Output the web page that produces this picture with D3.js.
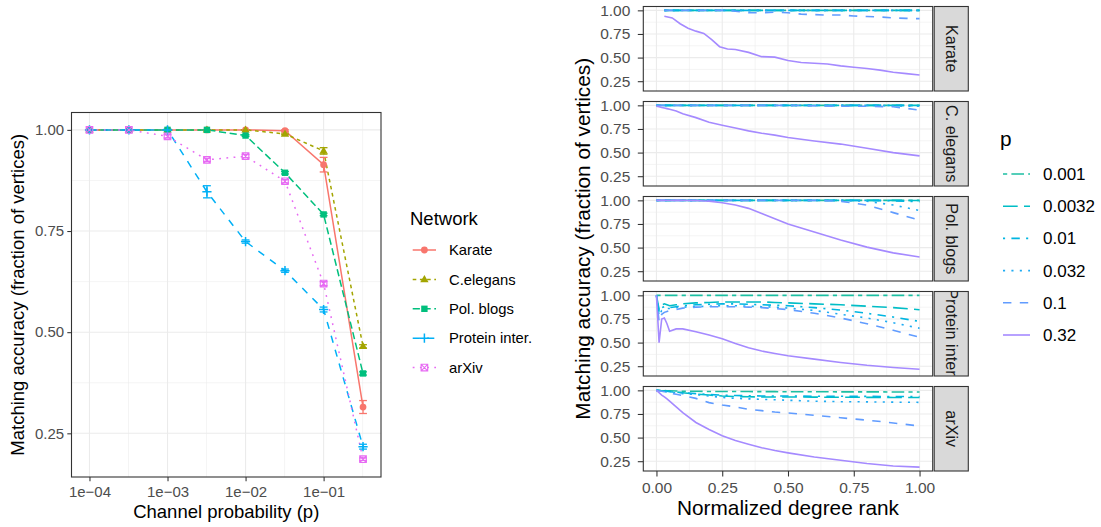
<!DOCTYPE html>
<html><head><meta charset="utf-8">
<script src="https://cdn.jsdelivr.net/npm/d3@7"></script>
<style>body{margin:0;background:#fff} svg{display:block;font-family:"Liberation Sans",Arial,Helvetica,sans-serif}</style>
</head><body><svg id="c" width="1101" height="527"></svg>
<script>
// ---------------- Left chart data ----------------
const channelP = [1e-4, 3.2e-4, 1e-3, 3.2e-3, 1e-2, 3.2e-2, 0.1, 0.32];
const networks = ["Karate", "C.elegans", "Pol. blogs", "Protein inter.", "arXiv"];
const accKarate   = [1, 1, 1, 1, 1, 0.998, 0.914, 0.315];
const accCelegans = [1, 1, 1, 1, 1, 0.990, 0.948, 0.465];
const accPolblogs = [1, 1, 1, 1, 0.986, 0.894, 0.791, 0.398];
const accProtein  = [1, 1, 1, 0.847, 0.724, 0.652, 0.556, 0.217];
const accArxiv    = [1, 1, 0.984, 0.926, 0.935, 0.873, 0.620, 0.186];
const errKarate   = [0, 0, 0, 0, 0, 0.002, 0.018, 0.016];
const errCelegans = [0, 0, 0, 0, 0, 0.002, 0.008, 0.004];
const errPolblogs = [0, 0, 0, 0, 0.002, 0.003, 0.003, 0.004];
const errProtein  = [0, 0, 0.002, 0.015, 0.004, 0.004, 0.006, 0.006];
const errArxiv    = [0, 0, 0.004, 0.004, 0.004, 0.004, 0.005, 0.003];
const xTickValues = [1e-4, 1e-3, 1e-2, 1e-1];
const xTickLabels = ["1e\u221204", "1e\u221203", "1e\u221202", "1e\u221201"];
const yTickValues = [0.25, 0.5, 0.75, 1.0];
const yTickLabels = ["0.25", "0.50", "0.75", "1.00"];

// ---------------- Right chart data ----------------
const pLevels = ["0.001", "0.0032", "0.01", "0.032", "0.1", "0.32"];
const facetNames = ["Karate", "C. elegans", "Pol. blogs", "Protein inter.", "arXiv"];
const rankKarate = [0.03,0.06,0.09,0.12,0.15,0.18,0.21,0.24,0.27,0.30,0.35,0.40,0.45,0.50,0.55,0.60,0.65,0.70,0.75,0.80,0.85,0.90,0.95,1.00];
const rankOther = [0,0.01,0.02,0.03,0.04,0.05,0.075,0.1,0.15,0.2,0.25,0.3,0.35,0.4,0.45,0.5,0.6,0.7,0.8,0.9,1.0];
const rankTicks = [0, 0.25, 0.5, 0.75, 1.0];
const rankTickLabels = ["0.00", "0.25", "0.50", "0.75", "1.00"];

const curvesKarate = [
  [1,1,1,1,1,1,1,1,1,1,1,1,1,1,1,1,1,1,1,1,1,1,1,1],
  [1,1,1,1,1,1,1,1,1,1,1,1,1,1,1,1,1,1,1,1,1,1,1,1],
  [1,1,1,1,1,1,1,1,1,1,1,1,1,1,1,1,1,1,1,1,1,1,1,1],
  [1,1,1,1,1,1,1,1,1,1,1,1,1,1,1,1,1,1,1,1,1,1,0.999,0.998],
  [1,1,1,1,1,1,1,1,1,0.99,0.975,0.975,0.98,0.975,0.96,0.955,0.95,0.95,0.94,0.935,0.93,0.92,0.915,0.912],
  [0.937,0.92,0.858,0.81,0.78,0.755,0.69,0.615,0.59,0.585,0.555,0.51,0.505,0.47,0.448,0.44,0.432,0.412,0.398,0.384,0.367,0.345,0.33,0.315]
];
const curvesCelegans = [
  [1,1,1,1,1,1,1,1,1,1,1,1,1,1,1,1,1,1,1,1,1],
  [1,1,1,1,1,1,1,1,1,1,1,1,1,1,1,1,1,1,1,1,1],
  [1,1,1,1,1,1,1,1,1,1,1,1,1,1,1,1,1,1,1,1,0.998],
  [1,1,1,1,1,1,1,1,1,1,1,1,1,1,1,1,1,1,1,0.995,0.99],
  [1,1,1,1,1,1,1,1,1,1,1,1,1,1,1,1,0.995,0.99,0.99,0.985,0.95],
  [0.99,0.985,0.978,0.972,0.965,0.958,0.94,0.91,0.87,0.82,0.79,0.76,0.73,0.705,0.685,0.66,0.622,0.59,0.545,0.50,0.465]
];
const curvesPolblogs = [
  [1,1,1,1,1,1,1,1,1,1,1,1,1,1,1,1,1,1,1,1,1],
  [1,1,1,1,1,1,1,1,1,1,1,1,1,1,1,1,1,1,1,1,0.998],
  [1,1,1,1,1,1,1,1,1,1,1,1,1,1,1,1,1,1,1,0.995,0.986],
  [1,1,1,1,1,1,1,1,1,1,1,1,1,1,1,1,1,1,0.99,0.95,0.893],
  [1,1,1,1,1,1,1,1,1,1,1,1,1,1,1,1,1,0.99,0.95,0.87,0.79],
  [1,1,1,1,1,1,1,1,0.998,0.99,0.975,0.95,0.915,0.86,0.805,0.75,0.665,0.58,0.505,0.444,0.40]
];
const curvesProtein = [
  [1,1,1,1,1,1,1,1,1,1,1,1,1,1,1,1,1,1,1,1,1],
  [1,0.85,0.9,0.91,0.9,0.89,0.9,0.91,0.92,0.925,0.93,0.93,0.93,0.93,0.925,0.92,0.91,0.9,0.885,0.87,0.848],
  [1,0.82,0.87,0.88,0.875,0.87,0.88,0.89,0.9,0.905,0.91,0.91,0.905,0.9,0.895,0.89,0.87,0.845,0.81,0.77,0.724],
  [1,0.78,0.84,0.85,0.86,0.86,0.87,0.875,0.88,0.885,0.89,0.89,0.885,0.88,0.875,0.865,0.84,0.80,0.76,0.71,0.652],
  [1,0.72,0.8,0.82,0.83,0.84,0.85,0.865,0.875,0.88,0.88,0.88,0.875,0.87,0.86,0.85,0.81,0.76,0.70,0.63,0.556],
  [1,0.5,0.75,0.76,0.7,0.62,0.645,0.645,0.615,0.58,0.54,0.49,0.445,0.41,0.385,0.36,0.325,0.29,0.26,0.237,0.217]
];
const curvesArxiv = [
  [1,1,0.998,0.997,0.996,0.995,0.993,0.99,0.99,0.988,0.988,0.987,0.987,0.986,0.986,0.985,0.985,0.984,0.984,0.983,0.983],
  [1,0.998,0.996,0.994,0.992,0.99,0.982,0.975,0.96,0.95,0.94,0.935,0.932,0.93,0.93,0.93,0.928,0.927,0.926,0.925,0.925],
  [1,0.997,0.995,0.992,0.99,0.985,0.98,0.975,0.965,0.955,0.95,0.945,0.943,0.94,0.94,0.94,0.938,0.937,0.936,0.935,0.935],
  [1,0.995,0.99,0.987,0.983,0.978,0.972,0.965,0.955,0.94,0.925,0.915,0.91,0.905,0.9,0.895,0.885,0.88,0.878,0.875,0.873],
  [1,0.995,0.99,0.985,0.975,0.97,0.958,0.945,0.915,0.87,0.845,0.825,0.8,0.785,0.77,0.76,0.735,0.71,0.685,0.655,0.622],
  [1,0.975,0.95,0.93,0.91,0.885,0.825,0.765,0.66,0.585,0.52,0.47,0.43,0.393,0.363,0.338,0.294,0.26,0.225,0.2,0.187]
];

// ---------------- Styles ----------------
const networkColors = ["#F8766D", "#A3A500", "#00BF7D", "#00B0F6", "#E76BF3"];
const networkDash = ["", "3.6,3.6", "7.2,3.6", "7.2,7.2", "1.8,5.4"];
const networkShapes = ["circle", "triangle", "square", "plus", "squarecross"];
const pColors = ["#1CBFA2", "#00BDC6", "#00B5E1", "#1EABF3", "#619CFF", "#A58AFF"];
const pDash = ["4.2,4.2,12.6,4.2", "14.7,6.3", "2.1,6.3,8.4,6.3", "2.1,6.3", "8.4,8.4", ""];

const GRID = "#EBEBEB", BORDER = "#333333", TICKTXT = "#4D4D4D";
const svg = d3.select("#c");
svg.append("rect").attr("width", 1101).attr("height", 527).attr("fill", "#fff");

function styleAxis(g, fs) {
  g.select(".domain").remove();
  g.selectAll(".tick line").attr("stroke", BORDER).attr("stroke-width", 1.07);
  g.selectAll(".tick text").attr("fill", TICKTXT).attr("font-size", fs)
    .attr("font-family", '"Liberation Sans", Arial, Helvetica, sans-serif');
}

// ================= LEFT CHART =================
const LP = {l: 71.5, r: 381, t: 112.5, b: 477};
const accSeries = [accKarate, accCelegans, accPolblogs, accProtein, accArxiv];
const errSeries = [errKarate, errCelegans, errPolblogs, errProtein, errArxiv];
const ebHalf = 0.05; // errorbar half width in log10 units
const logs = channelP.map(Math.log10);
let lx0 = d3.min(logs) - ebHalf, lx1 = d3.max(logs) + ebHalf;
const lxr = lx1 - lx0; lx0 -= 0.05 * lxr; lx1 += 0.05 * lxr;
const xL = d3.scaleLog().domain([Math.pow(10, lx0), Math.pow(10, lx1)]).range([LP.l, LP.r]);
let ly0 = d3.min(accSeries.flatMap((s, i) => s.map((v, j) => v - errSeries[i][j])));
let ly1 = d3.max(accSeries.flatMap((s, i) => s.map((v, j) => v + errSeries[i][j])));
const lyr = ly1 - ly0; ly0 -= 0.05 * lyr; ly1 += 0.05 * lyr;
const yL = d3.scaleLinear().domain([ly0, ly1]).range([LP.b, LP.t]);

const gL = svg.append("g");
svg.append("clipPath").attr("id", "clipL").append("rect")
  .attr("x", LP.l).attr("y", LP.t).attr("width", LP.r - LP.l).attr("height", LP.b - LP.t);
const gridL = gL.append("g").attr("clip-path", "url(#clipL)");
// minor grid
const minorX = [-4.5, -3.5, -2.5, -1.5, -0.5].map(e => Math.pow(10, e));
const minorY = [0.125, 0.375, 0.625, 0.875];
gridL.selectAll(".mx").data(minorX).join("line")
  .attr("x1", d => xL(d)).attr("x2", d => xL(d)).attr("y1", LP.t).attr("y2", LP.b)
  .attr("stroke", GRID).attr("stroke-width", 0.55);
gridL.selectAll(".my").data(minorY).join("line")
  .attr("y1", d => yL(d)).attr("y2", d => yL(d)).attr("x1", LP.l).attr("x2", LP.r)
  .attr("stroke", GRID).attr("stroke-width", 0.55);
gridL.selectAll(".Mx").data(xTickValues).join("line")
  .attr("x1", d => xL(d)).attr("x2", d => xL(d)).attr("y1", LP.t).attr("y2", LP.b)
  .attr("stroke", GRID).attr("stroke-width", 1.1);
gridL.selectAll(".My").data(yTickValues).join("line")
  .attr("y1", d => yL(d)).attr("y2", d => yL(d)).attr("x1", LP.l).attr("x2", LP.r)
  .attr("stroke", GRID).attr("stroke-width", 1.1);

// lines
const lineL = d3.line().x(d => xL(d[0])).y(d => yL(d[1]));
accSeries.forEach((s, i) => {
  gL.append("path").datum(channelP.map((p, j) => [p, s[j]]))
    .attr("d", lineL).attr("fill", "none").attr("stroke", networkColors[i])
    .attr("stroke-width", 1.5).attr("stroke-dasharray", networkDash[i] || null);
});
// error bars
accSeries.forEach((s, i) => {
  const g = gL.append("g").attr("stroke", networkColors[i]).attr("stroke-width", 1.3).attr("fill", "none");
  channelP.forEach((p, j) => {
    const lo = s[j] - errSeries[i][j], hi = s[j] + errSeries[i][j];
    const xa = xL(Math.pow(10, Math.log10(p) - ebHalf)), xb = xL(Math.pow(10, Math.log10(p) + ebHalf)), xc = xL(p);
    g.append("line").attr("x1", xa).attr("x2", xb).attr("y1", yL(lo)).attr("y2", yL(lo));
    g.append("line").attr("x1", xa).attr("x2", xb).attr("y1", yL(hi)).attr("y2", yL(hi));
    g.append("line").attr("x1", xc).attr("x2", xc).attr("y1", yL(lo)).attr("y2", yL(hi));
  });
});
// point shapes
function drawShape(g, shape, x, y, color) {
  if (shape === "circle") {
    g.append("circle").attr("cx", x).attr("cy", y).attr("r", 3.4).attr("fill", color);
  } else if (shape === "triangle") {
    const s = 4.4;
    g.append("path").attr("d", `M${x},${y - s}L${x + s * 0.95},${y + s * 0.62}L${x - s * 0.95},${y + s * 0.62}Z`).attr("fill", color);
  } else if (shape === "square") {
    g.append("rect").attr("x", x - 3.2).attr("y", y - 3.2).attr("width", 6.4).attr("height", 6.4).attr("fill", color);
  } else if (shape === "plus") {
    g.append("path").attr("d", `M${x - 4.6},${y}H${x + 4.6}M${x},${y - 4.6}V${y + 4.6}`)
      .attr("stroke", color).attr("stroke-width", 1.5).attr("fill", "none");
  } else if (shape === "squarecross") {
    const s = 3.3;
    g.append("path").attr("d", `M${x - s},${y - s}H${x + s}V${y + s}H${x - s}ZM${x - s},${y - s}L${x + s},${y + s}M${x + s},${y - s}L${x - s},${y + s}`)
      .attr("stroke", color).attr("stroke-width", 1.1).attr("fill", "none");
  }
}
accSeries.forEach((s, i) => {
  const g = gL.append("g");
  channelP.forEach((p, j) => drawShape(g, networkShapes[i], xL(p), yL(s[j]), networkColors[i]));
});
// border
gL.append("rect").attr("x", LP.l).attr("y", LP.t).attr("width", LP.r - LP.l).attr("height", LP.b - LP.t)
  .attr("fill", "none").attr("stroke", BORDER).attr("stroke-width", 1.1);
// axes
const axLy = gL.append("g").attr("transform", `translate(${LP.l},0)`)
  .call(d3.axisLeft(yL).tickValues(yTickValues).tickFormat((d, i) => yTickLabels[i]).tickSize(4.2).tickPadding(3.2));
styleAxis(axLy, 15);
const axLx = gL.append("g").attr("transform", `translate(0,${LP.b})`)
  .call(d3.axisBottom(xL).tickValues(xTickValues).tickFormat((d, i) => xTickLabels[i]).tickSize(4.2).tickPadding(5));
styleAxis(axLx, 15);
gL.append("text").attr("x", (LP.l + LP.r) / 2).attr("y", 518).attr("text-anchor", "middle")
  .attr("font-size", 18.5).attr("fill", "#000").text("Channel probability (p)");
gL.append("text").attr("transform", `translate(23.5,${(LP.t + LP.b) / 2}) rotate(-90)`).attr("text-anchor", "middle")
  .attr("font-size", 18.5).attr("fill", "#000").text("Matching accuracy (fraction of vertices)");

// left legend
const legL = svg.append("g");
legL.append("text").attr("x", 410).attr("y", 225).attr("font-size", 18.5).text("Network");
networks.forEach((n, i) => {
  const y = 250 + i * 29.4;
  legL.append("line").attr("x1", 412.7).attr("x2", 436).attr("y1", y).attr("y2", y)
    .attr("stroke", networkColors[i]).attr("stroke-width", 1.5).attr("stroke-dasharray", networkDash[i] || null);
  drawShape(legL, networkShapes[i], 424.4, y, networkColors[i]);
  legL.append("text").attr("x", 449).attr("y", y).attr("dy", "0.35em").attr("font-size", 14.8).text(n);
});

// ================= RIGHT CHART =================
const RP = {l: 643.3, r: 932.7, t0: 6.5, step: 95, h: 84.5, sx0: 934.2, sx1: 968.3};
const facetCurves = [curvesKarate, curvesCelegans, curvesPolblogs, curvesProtein, curvesArxiv];
const facetRanks = [rankKarate, rankOther, rankOther, rankOther, rankOther];
const xR = d3.scaleLinear().domain([-0.05, 1.05]).range([RP.l, RP.r]);
let ry0 = d3.min(facetCurves.flat(2)), ry1 = d3.max(facetCurves.flat(2));
const ryr = ry1 - ry0; ry0 -= 0.05 * ryr; ry1 += 0.05 * ryr;
const minorRX = [0.125, 0.375, 0.625, 0.875];

facetNames.forEach((name, fi) => {
  const top = RP.t0 + fi * RP.step, bot = top + RP.h;
  const yR = d3.scaleLinear().domain([ry0, ry1]).range([bot, top]);
  const g = svg.append("g");
  const cid = "clipR" + fi;
  svg.append("clipPath").attr("id", cid).append("rect").attr("x", RP.l).attr("y", top).attr("width", RP.r - RP.l).attr("height", RP.h);
  const gg = g.append("g").attr("clip-path", `url(#${cid})`);
  gg.selectAll(".mx").data(minorRX).join("line").attr("x1", d => xR(d)).attr("x2", d => xR(d)).attr("y1", top).attr("y2", bot)
    .attr("stroke", GRID).attr("stroke-width", 0.55);
  gg.selectAll(".my").data(minorY).join("line").attr("y1", d => yR(d)).attr("y2", d => yR(d)).attr("x1", RP.l).attr("x2", RP.r)
    .attr("stroke", GRID).attr("stroke-width", 0.55);
  gg.selectAll(".Mx").data(rankTicks).join("line").attr("x1", d => xR(d)).attr("x2", d => xR(d)).attr("y1", top).attr("y2", bot)
    .attr("stroke", GRID).attr("stroke-width", 1.1);
  gg.selectAll(".My").data(yTickValues).join("line").attr("y1", d => yR(d)).attr("y2", d => yR(d)).attr("x1", RP.l).attr("x2", RP.r)
    .attr("stroke", GRID).attr("stroke-width", 1.1);
  const line = d3.line().x(d => xR(d[0])).y(d => yR(d[1]));
  facetCurves[fi].forEach((vals, pi) => {
    gg.append("path").datum(facetRanks[fi].map((r, k) => [r, vals[k]]))
      .attr("d", line).attr("fill", "none").attr("stroke", pColors[pi]).attr("stroke-width", 1.6)
      .attr("stroke-dasharray", pDash[pi] || null);
  });
  g.append("rect").attr("x", RP.l).attr("y", top).attr("width", RP.r - RP.l).attr("height", RP.h)
    .attr("fill", "none").attr("stroke", BORDER).attr("stroke-width", 1.1);
  const ay = g.append("g").attr("transform", `translate(${RP.l},0)`)
    .call(d3.axisLeft(yR).tickValues(yTickValues).tickFormat((d, i) => yTickLabels[i]).tickSize(5.5).tickPadding(7.5));
  styleAxis(ay, 15.5);
  // strip
  const sid = "clipS" + fi;
  svg.append("clipPath").attr("id", sid).append("rect").attr("x", RP.sx0).attr("y", top).attr("width", RP.sx1 - RP.sx0).attr("height", RP.h);
  g.append("rect").attr("x", RP.sx0).attr("y", top).attr("width", RP.sx1 - RP.sx0).attr("height", RP.h)
    .attr("fill", "#D9D9D9").attr("stroke", BORDER).attr("stroke-width", 1.1);
  g.append("g").attr("clip-path", `url(#${sid})`).append("text")
    .attr("transform", `translate(${(RP.sx0 + RP.sx1) / 2},${(top + bot) / 2}) rotate(90)`)
    .attr("text-anchor", "middle").attr("dy", "0.35em").attr("font-size", 16.2).attr("fill", "#1A1A1A").text(name);
  if (fi === facetNames.length - 1) {
    const ax = g.append("g").attr("transform", `translate(0,${bot})`)
      .call(d3.axisBottom(xR).tickValues(rankTicks).tickFormat((d, i) => rankTickLabels[i]).tickSize(5.5).tickPadding(5.5));
    styleAxis(ax, 15.5);
  }
});
svg.append("text").attr("x", (RP.l + RP.r) / 2).attr("y", 514.5).attr("text-anchor", "middle")
  .attr("font-size", 20.8).text("Normalized degree rank");
svg.append("text").attr("transform", `translate(590,${(RP.t0 + RP.t0 + 4 * RP.step + RP.h) / 2}) rotate(-90)`)
  .attr("text-anchor", "middle").attr("font-size", 20.8).text("Matching accuracy (fraction of vertices)");

// right legend
const legR = svg.append("g");
legR.append("text").attr("x", 1000).attr("y", 146).attr("font-size", 20.8).text("p");
pLevels.forEach((p, i) => {
  const y = 174 + i * 32.2;
  legR.append("line").attr("x1", 1003).attr("x2", 1030).attr("y1", y).attr("y2", y)
    .attr("stroke", pColors[i]).attr("stroke-width", 1.6).attr("stroke-dasharray", pDash[i] || null);
  legR.append("text").attr("x", 1043).attr("y", y).attr("dy", "0.35em").attr("font-size", 17).text(p);
});
</script></body></html>
